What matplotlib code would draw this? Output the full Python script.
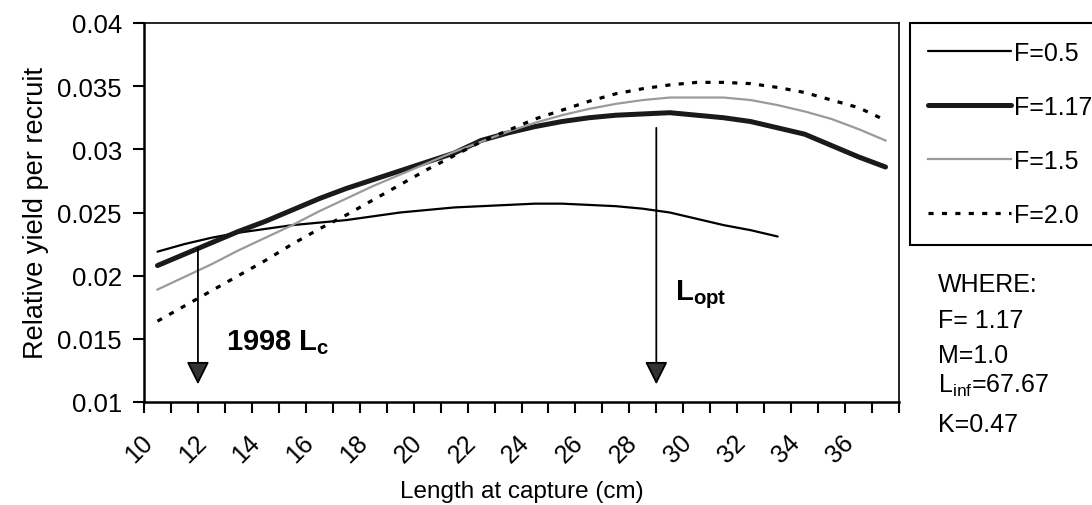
import matplotlib
matplotlib.use("Agg")
import matplotlib.pyplot as plt
from matplotlib.ticker import FixedLocator, FixedFormatter, MultipleLocator
import matplotlib.transforms as mtransforms

plt.rcParams['font.family'] = ['Liberation Sans', 'DejaVu Sans']
plt.rcParams['mathtext.fontset'] = 'custom'
plt.rcParams['mathtext.rm'] = 'Liberation Sans'
plt.rcParams['mathtext.bf'] = 'Liberation Sans:bold'
plt.rcParams['mathtext.it'] = 'Liberation Sans:italic'

# ---------------- data ----------------
length = [10.5, 11.5, 12.5, 13.5, 14.5, 15.5, 16.5, 17.5, 18.5, 19.5,
          20.5, 21.5, 22.5, 23.5, 24.5, 25.5, 26.5, 27.5, 28.5, 29.5,
          30.5, 31.5, 32.5, 33.5, 34.5, 35.5, 36.5, 37.5]

ypr_f05 = [0.0219, 0.0225, 0.0230, 0.0234, 0.0237, 0.0240, 0.0242, 0.0244,
           0.0247, 0.0250, 0.0252, 0.0254, 0.0255, 0.0256, 0.0257, 0.0257,
           0.0256, 0.0255, 0.0253, 0.0250, 0.0245, 0.0240, 0.0236, 0.0231]

ypr_f117 = [0.0208, 0.0217, 0.0226, 0.0235, 0.0243, 0.0252, 0.0261, 0.0269,
            0.0276, 0.0283, 0.0290, 0.0297, 0.0307, 0.0313, 0.0318, 0.0322,
            0.0325, 0.0327, 0.0328, 0.0329, 0.0327, 0.0325, 0.0322, 0.0317,
            0.0312, 0.0303, 0.0294, 0.0286]

ypr_f15 = [0.0189, 0.0199, 0.0209, 0.0220, 0.0230, 0.0240, 0.0251, 0.0261,
           0.0271, 0.0280, 0.0289, 0.0298, 0.0306, 0.0314, 0.0321, 0.0327,
           0.0332, 0.0336, 0.0339, 0.0341, 0.0341, 0.0341, 0.0339, 0.0335,
           0.0330, 0.0324, 0.0316, 0.0307]

ypr_f20 = [0.0164, 0.0176, 0.0188, 0.0200, 0.0212, 0.0225, 0.0237, 0.0248,
           0.0260, 0.0272, 0.0284, 0.0295, 0.0306, 0.0315, 0.0324, 0.0331,
           0.0338, 0.0344, 0.0348, 0.0351, 0.0353, 0.0353, 0.0352, 0.0349,
           0.0345, 0.0339, 0.0333, 0.0323]

series_labels = ['F=0.5', 'F=1.17', 'F=1.5', 'F=2.0']
x_tick_values = list(range(10, 37, 2))
y_tick_values = [0.01, 0.015, 0.02, 0.025, 0.03, 0.035, 0.04]
y_tick_labels = ['0.01', '0.015', '0.02', '0.025', '0.03', '0.035', '0.04']
lc_1998 = 12
l_opt = 29
params_text = ['WHERE:', 'F= 1.17', 'M=1.0', r'L$_{\mathrm{inf}}$=67.67', 'K=0.47']

# ---------------- figure ----------------
W, H = 1092, 506
fig = plt.figure(figsize=(W / 100, H / 100), dpi=100)
ax = fig.add_axes([144 / W, 1 - 403 / H, 755 / W, 379 / H])

l1, = ax.plot(length[:len(ypr_f05)], ypr_f05, color='black', lw=1.6,
              solid_capstyle='round')
l2, = ax.plot(length, ypr_f117, color='#1a1a1a', lw=3.6, solid_capstyle='round')
l3, = ax.plot(length, ypr_f15, color='#9a9a9a', lw=1.6)
l4, = ax.plot(length, ypr_f20, color='black', lw=2.3,
              linestyle=(0, (1.6, 2.6)), dash_capstyle='butt')

ax.set_xlim(10, 38)
ax.set_ylim(0.01, 0.04)

ax.xaxis.set_major_locator(FixedLocator(x_tick_values))
ax.xaxis.set_minor_locator(MultipleLocator(1))
ax.yaxis.set_major_locator(FixedLocator(y_tick_values))
ax.yaxis.set_major_formatter(FixedFormatter(y_tick_labels))

ax.tick_params(axis='x', which='both', direction='out', length=8, width=1.5,
               labelsize=18, pad=12)
ax.tick_params(axis='y', direction='out', length=8, width=1.5,
               labelsize=18.5, pad=8)
for lab in ax.get_xticklabels():
    lab.set_rotation(45)
    lab.set_ha('right')
    lab.set_va('top')
    lab.set_rotation_mode('anchor')
    lab.set_transform(lab.get_transform() +
                      mtransforms.ScaledTranslation(-4 / 100, 0, fig.dpi_scale_trans))

for side in ['left', 'bottom']:
    ax.spines[side].set_linewidth(1.8)
for side in ['top', 'right']:
    ax.spines[side].set_linewidth(1.2)

ax.set_xlabel('Length at capture (cm)', fontsize=17.5, labelpad=10)
ax.set_ylabel('Relative yield per recruit', fontsize=19.5, labelpad=6)

# arrows
arrow_kw = dict(arrowstyle='-|>,head_length=1.4,head_width=0.7',
                mutation_scale=10, lw=1.3, color='black', fc='#333333',
                shrinkA=0, shrinkB=0)
ax.annotate('', xy=(lc_1998, 0.0114), xytext=(lc_1998, 0.0222),
            arrowprops=arrow_kw)
ax.annotate('', xy=(l_opt, 0.0114), xytext=(l_opt, 0.0317),
            arrowprops=arrow_kw)
ax.text(13.05, 0.0142, r'$\mathbf{1998\ L_c}$', fontsize=21, va='baseline')
ax.text(29.7, 0.0181, r'$\mathbf{L_{opt}}$', fontsize=21, va='baseline')

# legend
leg = fig.legend([l1, l2, l3, l4], series_labels, loc='upper left',
                 bbox_to_anchor=(910 / W, 1 - 24 / H), borderaxespad=0,
                 fontsize=18, handlelength=3.3, handletextpad=0.12,
                 labelspacing=1.2, borderpad=0.72, fancybox=False,
                 framealpha=1, edgecolor='black')
leg.get_frame().set_linewidth(1.5)

# parameter text
baselines = [291.7, 328.3, 363.3, 393.3, 431.7]
for txt, by in zip(params_text, baselines):
    fig.text(938 / W, 1 - by / H, txt, fontsize=18, va='baseline', ha='left')

fig.savefig('out.png', dpi=100)
